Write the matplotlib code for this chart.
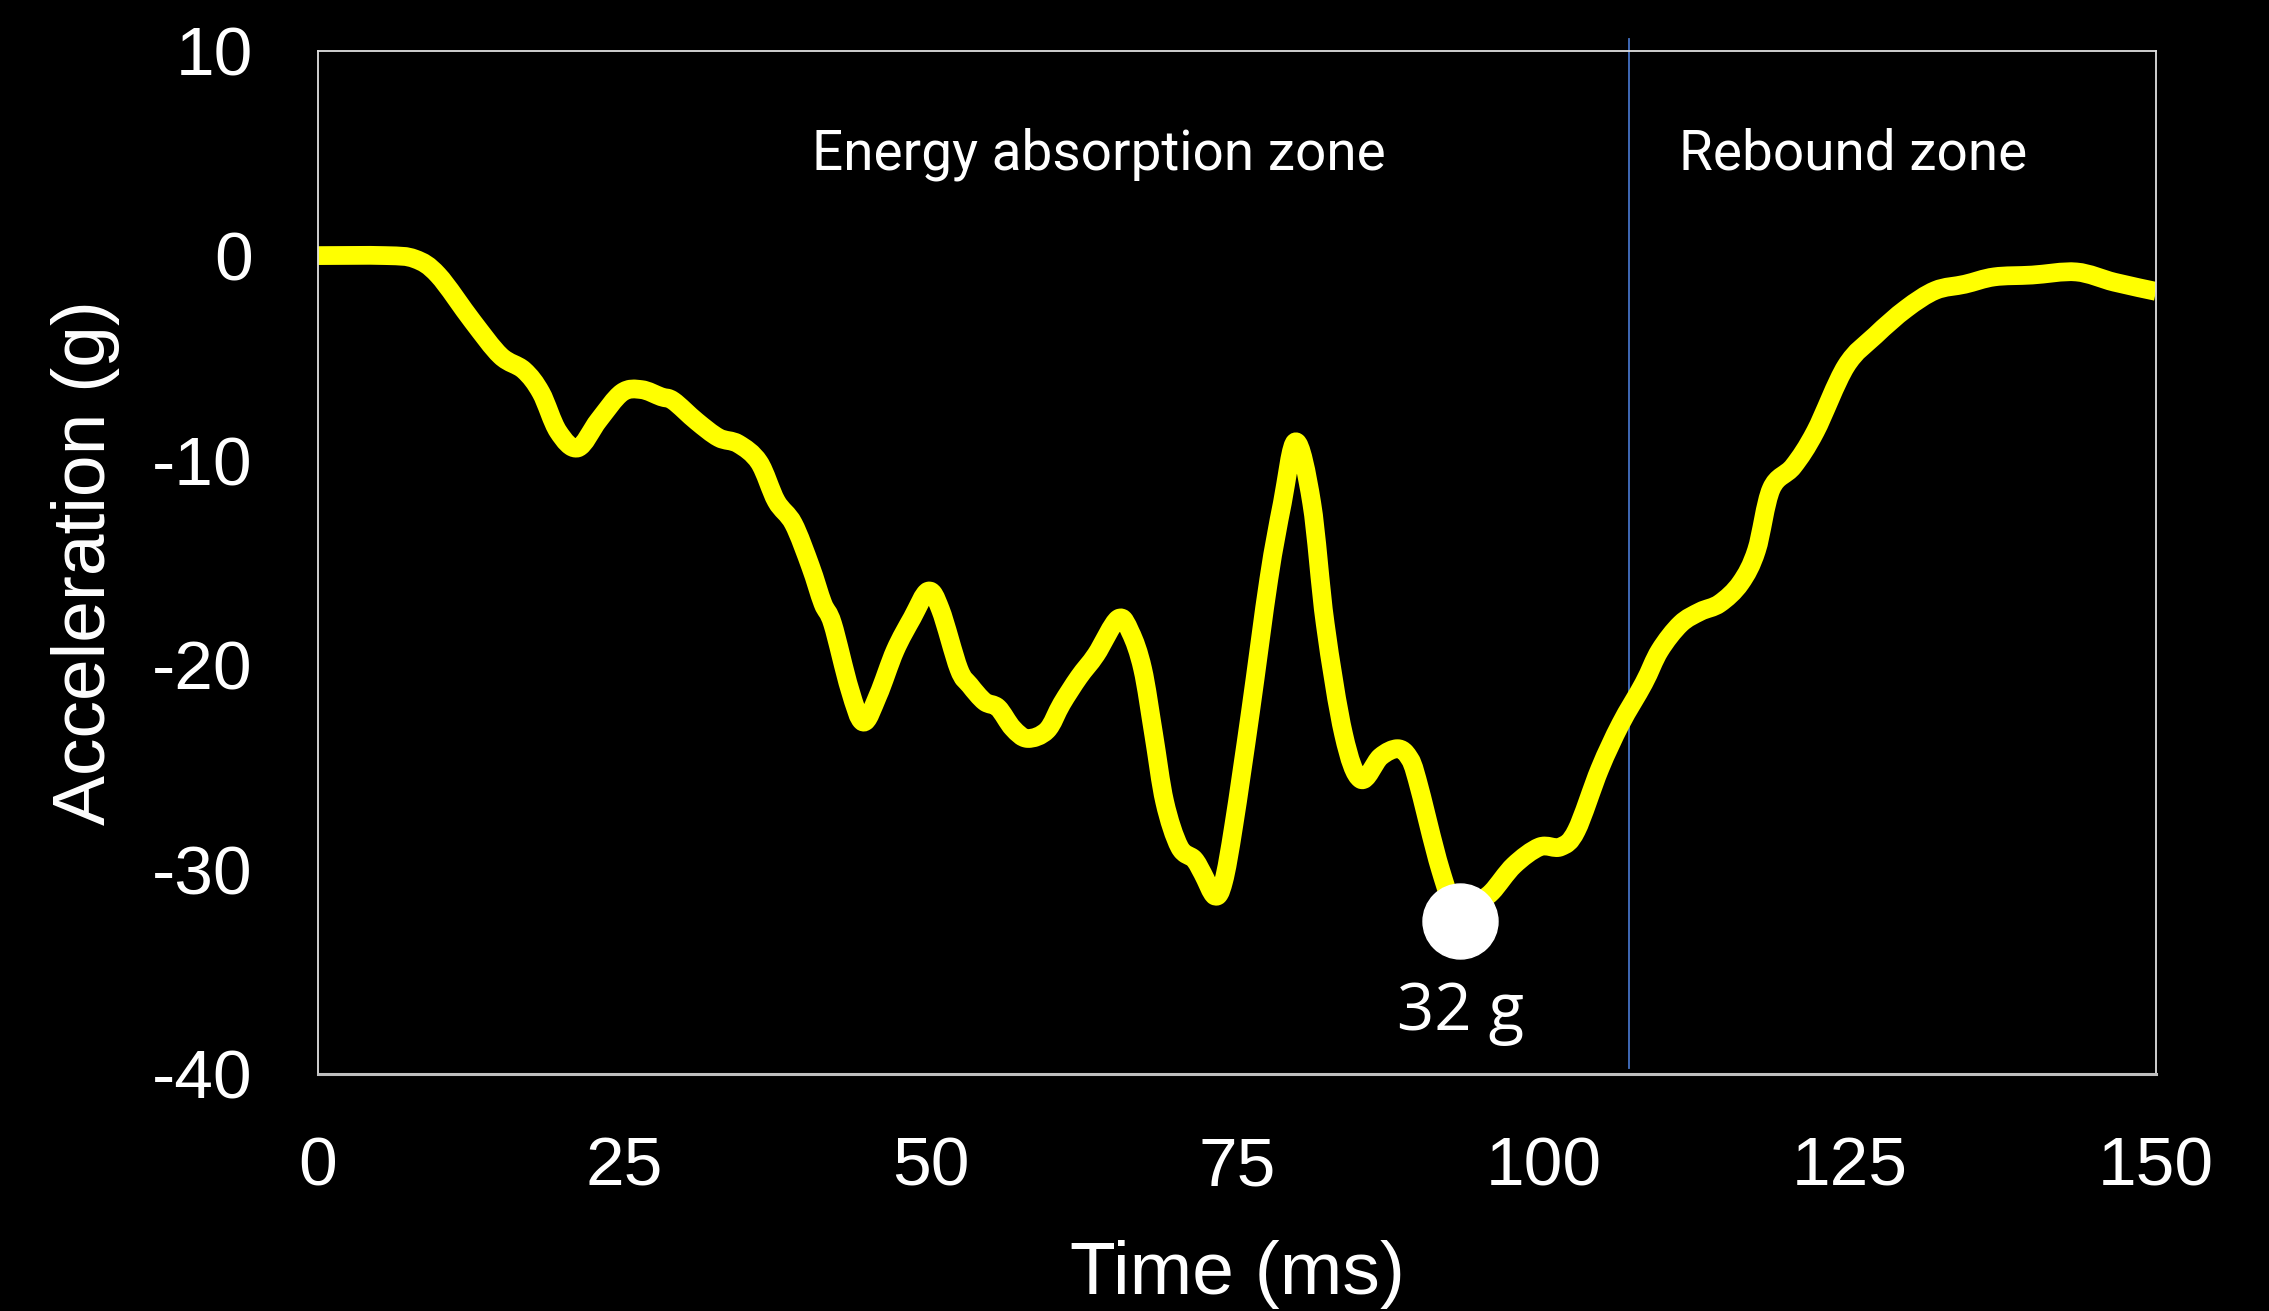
import matplotlib
matplotlib.use('Agg')
import matplotlib.pyplot as plt
from matplotlib.path import Path
from matplotlib.patches import PathPatch
import numpy as np

# Acceleration trace (time in ms, acceleration in g)
time_ms = [0, 5.5, 7.9, 9.8, 12.6, 14.9, 16.8, 18.2, 19.6, 21.2,
           22.9, 24.8, 26.4, 28.0, 29.0, 30.9, 32.7, 34.3, 36.0, 37.4,
           38.8, 40.2, 41.2, 42.0, 43.4, 44.5, 45.7, 47.1, 48.5, 49.8,
           50.8, 52.3, 53.2, 54.4, 55.5, 56.7, 57.9, 59.5, 60.7, 62.1,
           63.5, 65.3, 66.3, 67.3, 68.2, 69.1, 70.3, 71.5, 72.2, 73.2,
           73.9, 74.75, 76.1, 77.6, 78.7, 79.8, 81.1, 82.2, 83.7, 85.1,
           86.7, 88.1, 89.0, 89.7, 91.6, 93.2, 94.5, 95.8, 97.6, 99.7,
           101.4, 102.7, 104.6, 106.3, 108.2, 109.5, 111.2, 112.8, 114.4, 116.1,
           117.4, 118.6, 120.4, 122.2, 124.7, 127.1, 129.6, 132.0, 134.4, 136.8,
           139.9, 143.5, 146.6, 150]
accel_g = [0, 0, -0.16, -0.95, -3.2, -4.9, -5.6, -6.7, -8.6, -9.4,
           -8.05, -6.7, -6.55, -6.9, -7.1, -8.1, -8.9, -9.2, -10.1, -12.0,
           -13.1, -15.2, -17.0, -18.0, -21.2, -22.8, -21.5, -19.3, -17.7, -16.4,
           -17.3, -20.2, -21.0, -21.8, -22.1, -23.1, -23.6, -23.2, -21.9, -20.6,
           -19.5, -17.75, -18.4, -20.2, -23.4, -26.7, -28.9, -29.5, -30.2, -31.3,
           -30.6, -27.8, -22.3, -15.8, -12.1, -9.1, -12.1, -18.0, -23.4, -25.6,
           -24.5, -24.1, -24.5, -25.6, -30.0, -32.5, -31.7, -31.1, -29.8, -28.9,
           -28.9, -28.1, -25.1, -22.9, -20.9, -19.3, -18.0, -17.4, -17.0, -16.0,
           -14.4, -11.4, -10.3, -8.6, -5.4, -3.9, -2.6, -1.7, -1.4, -1.04,
           -0.95, -0.8, -1.3, -1.75]

x_ticks = [0, 25, 50, 75, 100, 125, 150]
y_ticks = [10, 0, -10, -20, -30, -40]
zone_boundary_ms = 107.0
zone_labels = ['Energy absorption zone', 'Rebound zone']
zone_label_x = [63.7, 125.3]
peak_label = '32 g'


def smooth_path(xs, ys):
    # Bezier path through every point (like a spreadsheet "smoothed line")
    pts = np.column_stack([xs, ys])
    verts = [pts[0]]
    codes = [Path.MOVETO]
    n = len(pts)
    for i in range(n - 1):
        p0 = pts[max(i - 1, 0)]
        p1 = pts[i]
        p2 = pts[i + 1]
        p3 = pts[min(i + 2, n - 1)]
        verts += [p1 + (p2 - p0) / 6.0, p2 - (p3 - p1) / 6.0, p2]
        codes += [Path.CURVE4] * 3
    return Path(verts, codes)


plt.rcParams['font.family'] = ['Liberation Sans', 'DejaVu Sans']
plt.rcParams['axes.unicode_minus'] = False

fig = plt.figure(figsize=(22.69, 13.11), dpi=100, facecolor='black')
ax = fig.add_axes([0.14015, 0.18078, 0.81005, 0.78032], facecolor='black')

# Zone boundary (runs a little past the top of the axes)
ax.plot([zone_boundary_ms, zone_boundary_ms], [10.6, -39.7], color='#4472C4',
        linewidth=1.3, clip_on=False, zorder=1)

# Main trace
trace = PathPatch(smooth_path(time_ms, accel_g), facecolor='none',
                  edgecolor='#FFFF00', linewidth=13.5, joinstyle='round',
                  capstyle='butt', zorder=2)
ax.add_patch(trace)

# Peak marker at the minimum of the trace
i_min = int(np.argmin(accel_g))
ax.plot(time_ms[i_min], accel_g[i_min], marker='o', markersize=54,
        color='white', zorder=3)
ax.text(time_ms[i_min], accel_g[i_min] - 4.5, peak_label, color='white',
        fontsize=47, ha='center', va='center', family=['Open Sans', 'DejaVu Sans'])

# Zone labels
for label, xpos in zip(zone_labels, zone_label_x):
    ax.text(xpos, 4.2, label, color='white', fontsize=39.5, ha='center',
            va='baseline', family=['Roboto', 'DejaVu Sans'])

ax.set_xlim(0, 150)
ax.set_ylim(-40, 10)
ax.set_xticks(x_ticks)
ax.set_yticks(y_ticks)
ax.tick_params(axis='both', length=0, colors='white', labelsize=50)
ax.tick_params(axis='x', pad=44)
ax.tick_params(axis='y', pad=47)

for side in ['top', 'left', 'right']:
    ax.spines[side].set_color('#e0e0e0')
    ax.spines[side].set_linewidth(1.3)
ax.spines['bottom'].set_color('#bfbfbf')
ax.spines['bottom'].set_linewidth(2.2)

ax.set_xlabel('Time (ms)', color='white', fontsize=54)
ax.set_ylabel('Acceleration (g)', color='white', fontsize=54)
ax.xaxis.set_label_coords(0.5, -0.162)
ax.yaxis.set_label_coords(-0.1077, 0.5)

plt.savefig('out.png', dpi=100, facecolor='black')
